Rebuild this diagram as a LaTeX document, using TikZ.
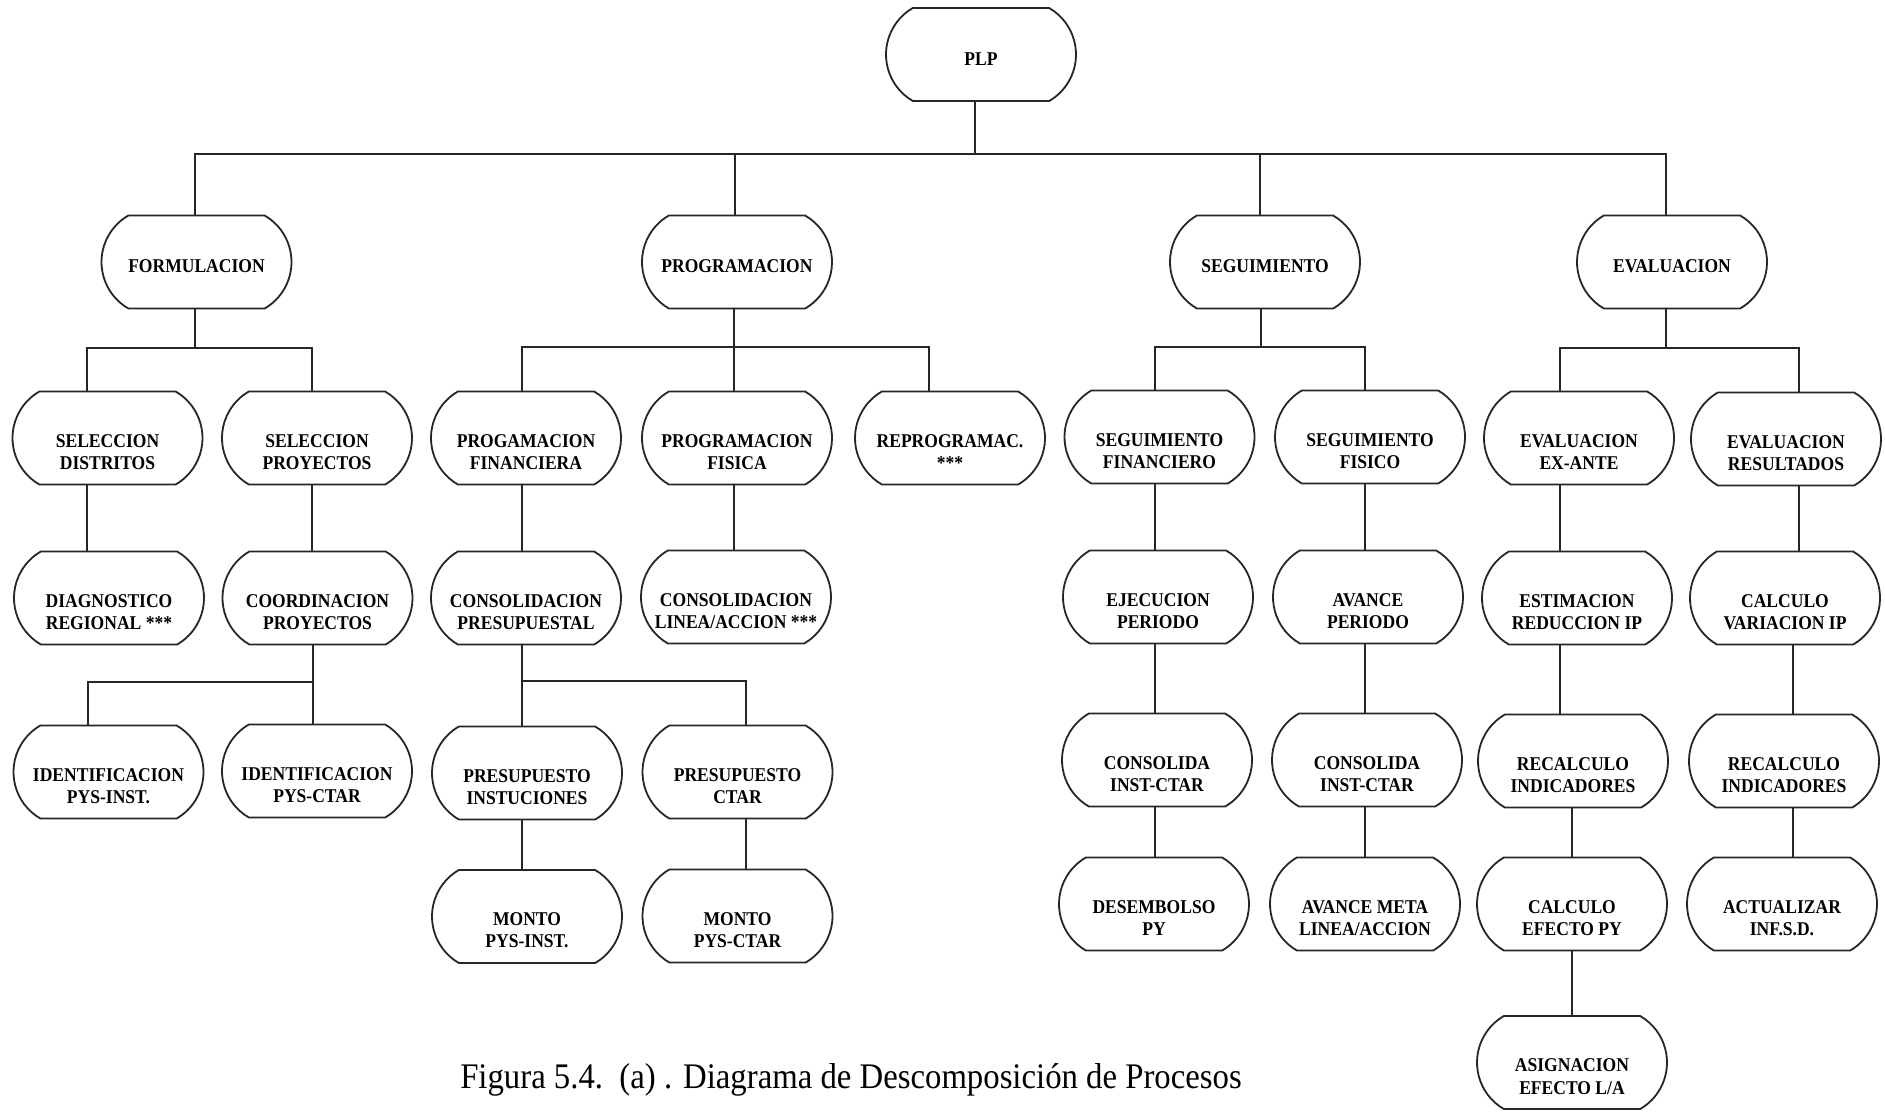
\documentclass[tikz,border=0pt]{standalone}
\usepackage{fontspec}
\setmainfont{Liberation Serif}
\newfontfamily\boxfont{Liberation Serif}[FakeStretch=0.9]
\newfontfamily\capfont{Liberation Serif}[FakeStretch=0.91]
\usetikzlibrary{shapes.misc}

% process box: outline node plus its (slightly lowered) label
\newcommand\procbox[5]{%
  \node[proc] (#1) at (#2,#3) {};
  \node[lbl] (#1-t) at ([yshift=#4]#1.center) {#5};}

\begin{document}
\begin{tikzpicture}[x=1pt,y=-1pt,
  proc/.style={rounded rectangle, rounded rectangle arc length=120,
    draw=black!85, line width=1.8pt, minimum width=190pt,
    minimum height=93pt, inner sep=0pt},
  lbl/.style={font=\boxfont\bfseries\fontsize{19.5}{22.3}\selectfont,
    align=center, inner sep=0pt, text=black},
  link/.style={draw=black!85, line width=2pt}]
\fill[white] (0,0) rectangle (1885,1112);
\useasboundingbox (0,0) rectangle (1885,1112);

% root
\procbox{plp}{981}{54.5}{-5pt}{PLP}

% first level
\procbox{form}{196.5}{262}{-4pt}{FORMULACION}
\procbox{prog}{737}{262}{-4pt}{PROGRAMACION}
\procbox{segu}{1265}{262}{-4pt}{SEGUIMIENTO}
\procbox{eval}{1672}{262}{-4pt}{EVALUACION}

% second level
\procbox{seld}{107.5}{438}{-14pt}{SELECCION\\DISTRITOS}
\procbox{selp}{317}{438}{-14pt}{SELECCION\\PROYECTOS}
\procbox{pfin}{526}{438}{-14pt}{PROGAMACION\\FINANCIERA}
\procbox{pfis}{737}{438}{-14pt}{PROGRAMACION\\FISICA}
\procbox{repr}{950}{438}{-14pt}{REPROGRAMAC.\\***}
\procbox{sfin}{1159.5}{437}{-14pt}{SEGUIMIENTO\\FINANCIERO}
\procbox{sfis}{1370}{437}{-14pt}{SEGUIMIENTO\\FISICO}
\procbox{exan}{1579}{438}{-14pt}{EVALUACION\\EX-ANTE}
\procbox{resu}{1786}{439}{-14pt}{EVALUACION\\RESULTADOS}

% third level
\procbox{diag}{109}{598}{-14pt}{DIAGNOSTICO\\REGIONAL ***}
\procbox{coor}{317.5}{598}{-14pt}{COORDINACION\\PROYECTOS}
\procbox{cpre}{526}{598}{-14pt}{CONSOLIDACION\\PRESUPUESTAL}
\procbox{clin}{736}{597}{-14pt}{CONSOLIDACION\\LINEA/ACCION ***}
\procbox{ejec}{1158}{597}{-14pt}{EJECUCION\\PERIODO}
\procbox{avan}{1368}{597}{-14pt}{AVANCE\\PERIODO}
\procbox{esti}{1577}{598}{-14pt}{ESTIMACION\\REDUCCION IP}
\procbox{calv}{1785}{598}{-14pt}{CALCULO\\VARIACION IP}

% fourth level
\procbox{idpi}{108.5}{772}{-14pt}{IDENTIFICACION\\PYS-INST.}
\procbox{idpc}{317}{771}{-14pt}{IDENTIFICACION\\PYS-CTAR}
\procbox{prin}{527}{773}{-14pt}{PRESUPUESTO\\INSTUCIONES}
\procbox{prct}{737.5}{772}{-14pt}{PRESUPUESTO\\CTAR}
\procbox{cons1}{1157}{760}{-14pt}{CONSOLIDA\\INST-CTAR}
\procbox{cons2}{1367}{760}{-14pt}{CONSOLIDA\\INST-CTAR}
\procbox{reca1}{1573}{761}{-14pt}{RECALCULO\\INDICADORES}
\procbox{reca2}{1784}{761}{-14pt}{RECALCULO\\INDICADORES}

% fifth level
\procbox{mpi}{527}{916.5}{-14pt}{MONTO\\PYS-INST.}
\procbox{mpc}{737.5}{916}{-14pt}{MONTO\\PYS-CTAR}
\procbox{dese}{1154}{904}{-14pt}{DESEMBOLSO\\PY}
\procbox{avme}{1365}{904}{-14pt}{AVANCE META\\LINEA/ACCION}
\procbox{cefe}{1572}{904}{-14pt}{CALCULO\\EFECTO PY}
\procbox{actu}{1782}{904}{-14pt}{ACTUALIZAR\\INF.S.D.}

% sixth level
\procbox{asig}{1572}{1062.5}{-14pt}{ASIGNACION\\EFECTO L/A}

% junction points of the connecting lines
\coordinate (j0) at (975,154);
\coordinate (t1) at (195,154);
\coordinate (t2) at (735,154);
\coordinate (t3) at (1260,154);
\coordinate (t4) at (1666,154);
\coordinate (f0) at (195,348);
\coordinate (f1) at (87,348);
\coordinate (f2) at (312,348);
\coordinate (p0) at (734,347);
\coordinate (p1) at (522,347);
\coordinate (p3) at (929,347);
\coordinate (s0) at (1261,347);
\coordinate (s1) at (1155,347);
\coordinate (s2) at (1365,347);
\coordinate (e0) at (1666,348);
\coordinate (e1) at (1560,348);
\coordinate (e2) at (1799,348);
\coordinate (c0) at (313,682);
\coordinate (c1) at (88,682);
\coordinate (k0) at (522,681);
\coordinate (k1) at (746,681);
\coordinate (v2) at (1793,0);

% root to first level
\draw[link] (plp.south -| j0) -- (j0);
\draw[link] (form.north -| t1) -- (t1) -- (t4) -- (eval.north -| t4);
\draw[link] (prog.north -| t2) -- (t2);
\draw[link] (segu.north -| t3) -- (t3);

% first to second level
\draw[link] (form.south -| f0) -- (f0);
\draw[link] (seld.north -| f1) -- (f1) -- (f2) -- (selp.north -| f2);
\draw[link] (prog.south -| p0) -- (pfis.north -| p0);
\draw[link] (pfin.north -| p1) -- (p1) -- (p3) -- (repr.north -| p3);
\draw[link] (segu.south -| s0) -- (s0);
\draw[link] (sfin.north -| s1) -- (s1) -- (s2) -- (sfis.north -| s2);
\draw[link] (eval.south -| e0) -- (e0);
\draw[link] (exan.north -| e1) -- (e1) -- (e2) -- (resu.north -| e2);

% second to third level
\draw[link] (seld.south -| f1) -- (diag.north -| f1);
\draw[link] (selp.south -| f2) -- (coor.north -| f2);
\draw[link] (pfin.south -| k0) -- (cpre.north -| k0);
\draw[link] (pfis.south -| p0) -- (clin.north -| p0);
\draw[link] (sfin.south -| s1) -- (ejec.north -| s1);
\draw[link] (sfis.south -| s2) -- (avan.north -| s2);
\draw[link] (exan.south -| e1) -- (esti.north -| e1);
\draw[link] (resu.south -| e2) -- (calv.north -| e2);

% third to fourth level
\draw[link] (coor.south -| c0) -- (idpc.north -| c0);
\draw[link] (c0) -- (c1) -- (idpi.north -| c1);
\draw[link] (cpre.south -| k0) -- (prin.north -| k0);
\draw[link] (k0) -- (k1) -- (prct.north -| k1);
\draw[link] (ejec.south -| s1) -- (cons1.north -| s1);
\draw[link] (avan.south -| s2) -- (cons2.north -| s2);
\draw[link] (esti.south -| e1) -- (reca1.north -| e1);
\draw[link] (calv.south -| v2) -- (reca2.north -| v2);

% fourth to sixth level
\draw[link] (prin.south -| k0) -- (mpi.north -| k0);
\draw[link] (prct.south -| k1) -- (mpc.north -| k1);
\draw[link] (cons1.south -| s1) -- (dese.north -| s1);
\draw[link] (cons2.south -| s2) -- (avme.north -| s2);
\draw[link] (reca1.south -| cefe.north) -- (cefe.north);
\draw[link] (reca2.south -| v2) -- (actu.north -| v2);
\draw[link] (cefe.south -| asig.north) -- (asig.north);

% caption
\node[font=\capfont\fontsize{36}{40}\selectfont, anchor=base, inner sep=0pt]
  (cap) at (851,1088) {Figura 5.4.\ \ (a) . Diagrama de Descomposición de Procesos};
\end{tikzpicture}
\end{document}
